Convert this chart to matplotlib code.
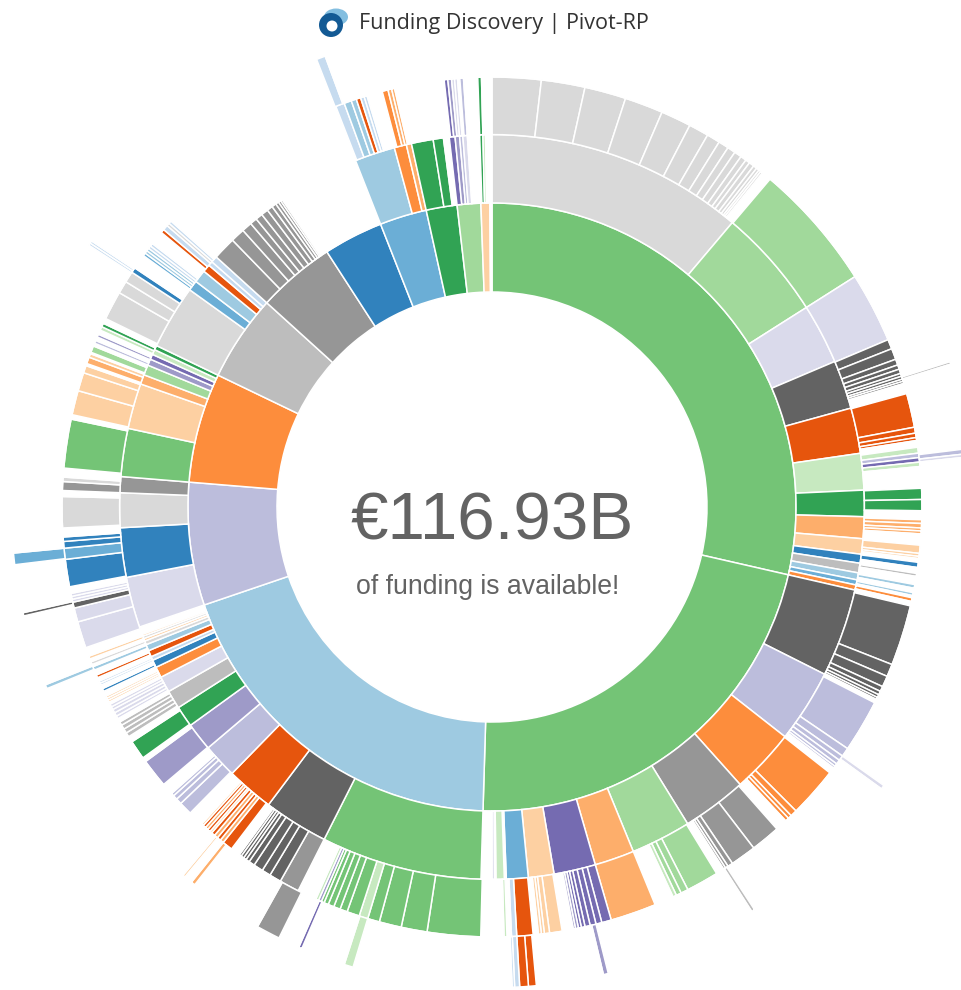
import numpy as np
import matplotlib
matplotlib.use('Agg')
import matplotlib.pyplot as plt
from matplotlib.patches import Circle, Ellipse

# share of the total funding per segment, in degrees of the circle
# "-" in the colours means nothing is drawn there (the children do not fill their parent)
palette = {
    'gr': '#74c476', 'a1': '#a1d99b', 'c7': '#c7e9c0', '31': '#31a354',
    'd9': '#d9d9d9', 'bd': '#bdbdbd', '96': '#969696', '63': '#636363',
    '9e': '#9ecae1', '6b': '#6baed6', 'c6': '#c6dbef', '3b': '#3182bd',
    'e6': '#e6550d', 'fd': '#fd8d3c', 'ae': '#fdae6b', 'd0': '#fdd0a2',
    '75': '#756bb1', '9a': '#9e9ac8', 'bc': '#bcbddc', 'da': '#dadaeb',
    '-': 'none',
}

ring1_values = [102.9, 78.8, 69.5, 23.5, 21.0, 16.5, 14.9, 11.4, 9.0, 5.9, 4.5, 1.7]
ring1_colors = ['gr', 'gr', '9e', 'bc', 'fd', 'bd', '96', '3b', '6b', '31', 'a1', 'd0']

ring2_values = [40.2, 17.4, 9.4, 7.6, 7.1, 5.7, 4.1, 3.4, 2.4, 1.4, 1.5, 1.1, 0.8, 0.8,
                13.8, 11.4, 10.1, 10.1, 9.4, 6.2, 6.5, 4.0, 3.4, 0.3, 1.3, 0.2, 0.4, 1.7,
                25.1, 10.1, 7.4, 5.4, 4.4, 3.3, 2.9, 2.5, 1.7, 1.2, 0.6, 1.0, 1.0, 0.6, 0.4, 0.4, 0.3, 1.2,
                7.9, 7.7, 5.4, 2.5,
                7.5, 7.1, 1.5, 1.6, 1.0, 0.8, 0.8, 0.7,
                10.0, 1.6, 2.0, 1.2, 0.7, 1.0,
                3.6, 2.2, 1.6, 1.1, 1.1, 1.1, 0.9, 0.7, 0.5, 0.4, 0.3, 12.8,
                6.3, 1.9, 0.8,
                3.4, 1.6, 0.9,
                0.9, 0.7, 0.5, 0.7, 1.9,
                0.5, 0.4]
ring2_colors = ['d9', 'a1', 'da', '63', 'e6', 'c7', '31', 'ae', 'd0', '3b', 'bd', '9e', '6b', 'fd',
                '63', 'bc', 'fd', '96', 'a1', 'ae', '75', 'd0', '6b', '-', 'c7', '-', 'da', '-',
                'gr', '63', 'e6', 'bc', '9a', '31', 'bd', 'da', 'fd', '3b', 'c6', 'e6', '9e', 'd9', 'd0', 'd9', 'd0', '-',
                'da', '3b', 'd9', '96',
                'gr', 'd0', 'ae', 'a1', '9a', '75', 'c7', '31',
                'd9', '6b', '9e', 'e6', 'c6', 'c6',
                '96', '96', '96', '96', '96', '96', '96', '96', '96', '96', '96', '-',
                '9e', 'fd', 'ae',
                '31', '31', '-',
                '75', '9a', 'bc', 'da', '-',
                '31', 'c7']

ring3_values = [6.6, 5.9, 5.6, 5.2, 4.1, 2.7, 1.8, 1.4, 1.1, 1.0, 0.8, 0.6, 0.7, 0.5, 0.4, 0.3, 0.3, 1.3,
                17.3, 9.5,
                1.3, 1.5, 0.8, 0.6, 0.6, 0.4, 0.4, 0.3, 0.3, 1.4,
                4.6, 0.8, 0.6, 0.4, 0.9,
                0.8, 0.6, 0.6, 0.6, 2.9,
                1.5, 1.5, 1.2,
                0.5, 0.6, 0.4, 0.4, 1.5,
                1.1, 0.4, 0.3, 0.5,
                0.7, 0.8, 0.4, 1.1, 0.5, 0.6, 0.4, 0.3, 0.5, 0.6,
                8.2, 1.7, 1.5, 0.7, 0.5, 0.4, 0.3, 0.5,
                7.1, 1.2, 0.7, 0.6, 0.4, 0.3, 0.8,
                6.8, 0.9, 0.5, 0.5, 1.6,
                4.0, 3.5, 0.7, 0.4, 0.3, 1.1,
                4.4, 1.0, 0.7, 0.5, 2.6,
                6.2,
                1.3, 0.8, 0.8, 0.7, 0.5, 0.4, 0.4, 0.3, 1.5,
                1.7, 0.7, 0.4, 0.4, 0.7,
                2.2, 0.7, 0.6, 0.4, 3.1,
                7.2, 3.5, 3.0, 1.6, 1.2, 1.7, 1.0, 0.9, 0.8, 0.6, 0.4, 0.4, 0.4, 2.6,
                2.7, 1.6, 1.2, 1.3, 0.8, 0.5, 0.4, 0.4, 0.3, 1.3,
                1.4, 0.5, 0.5, 0.5, 0.5, 0.3, 0.4, 0.4, 0.4, 0.3, 2.1,
                1.8, 0.8, 0.6, 0.4, 1.6,
                3.9, 0.6, 2.6, 0.8,
                0.6, 0.6, 0.6, 0.5, 0.5,
                0.4, 0.5, 0.5, 0.4, 0.4, 0.3,
                0.3, 0.3, 0.3, 0.7,
                0.4, 0.5, 0.3, 0.3, 0.5, 0.4, 0.7, 0.5, 0.3, 0.4, 0.4, 0.4, 1.2,
                3.6, 1.9, 0.8, 0.4, 0.4, 0.4, 0.9,
                3.7, 1.5, 0.9, 0.6, 1.2,
                4.2, 0.8,
                1.2, 0.6, 1.2,
                6.6, 0.6,
                3.3, 2.5, 1.0, 0.3,
                0.9, 0.5, 0.2, 0.9, 0.4, 0.4, 0.5, 0.4, 0.6, 0.5, 0.5, 0.7,
                3.9, 1.7, 1.5, 0.7, 2.0,
                0.4, 0.4, 0.4, 0.4, 0.4, 1.9,
                0.5, 0.7, 0.4, 0.4, 27.0,
                1.2, 1.0, 0.7, 0.6, 0.5, 0.4, 2.1,
                0.8, 0.5, 0.4, 6.7,
                0.5, 0.5, 0.4, 0.4, 0.3, 0.5, 1.9, 0.5]
ring3_colors = ['d9', 'd9', 'd9', 'd9', 'd9', 'd9', 'd9', 'd9', 'd9', 'd9', 'd9', 'd9', 'd9', 'd9', 'd9', 'd9', 'd9', '-',
                'a1', 'da',
                '63', '63', '63', '63', '63', '63', '63', '63', '63', '-',
                'e6', 'e6', 'e6', 'e6', '-',
                'c7', 'bc', '75', 'c7', '-',
                '31', '31', '-',
                'ae', 'ae', 'ae', 'ae', '-',
                'd0', 'd0', 'd0', '-',
                '3b', '-', 'bd', '-', '9e', '-', '9e', '-', 'fd', '-',
                '63', '63', '63', '63', '63', '63', '63', '-',
                'bc', 'bc', 'bc', 'bc', 'bc', 'bc', '-',
                'fd', 'fd', 'fd', 'fd', '-',
                '96', '96', '96', '96', '96', '-',
                'a1', 'a1', 'a1', 'c7', '-',
                'ae',
                '75', '75', '75', '75', '75', '75', '9a', '9a', '-',
                'd0', 'd0', 'd0', 'd0', '-',
                'e6', 'c6', '-', 'c7', '-',
                'gr', 'gr', 'gr', 'gr', 'c7', 'gr', 'gr', 'gr', 'gr', 'gr', 'gr', '9a', 'c7', '-',
                '96', '63', '63', '63', '63', '63', '63', '63', '63', '-',
                'e6', 'ae', 'e6', 'ae', 'e6', 'd0', 'e6', 'ae', 'e6', 'd0', '-',
                'bc', 'bc', 'bc', 'bc', '-',
                '9a', '-', '31', '-',
                'bd', 'bd', 'bd', 'bd', '-',
                'da', 'da', 'da', 'da', 'da', '-',
                'd0', 'd0', 'd0', '-',
                '3b', '-', 'c6', 'c6', '-', 'e6', '-', '9e', '-', 'd9', '-', 'd0', '-',
                'da', 'da', '63', 'da', 'da', 'da', '-',
                '3b', '6b', '3b', '3b', '-',
                'd9', '-',
                '96', 'd9', '-',
                'gr', '-',
                'd0', 'd0', 'd0', '-',
                'ae', 'd0', '-', 'a1', '-', 'bc', '-', '9a', '-', 'c7', '31', '-',
                'd9', 'd9', 'd9', '3b', '-',
                '6b', '9e', '9e', 'c6', 'c6', '-',
                'e6', 'c6', 'd9', 'c6', '-',
                'c6', '9e', '9e', 'e6', 'c6', 'c6', '-',
                'fd', 'ae', 'ae', '-',
                '75', '9a', 'da', 'da', '-', 'bc', '-', '31']

ring4_values = [72.4, 0.3, 10.3, 0.6, 0.4, 41.4, 0.5, 21.0, 0.4, 18.7, 0.6, 8.1,
                0.95, 1.05, 0.6, 0.3, 19.2, 1.1, 5.4, 0.4, 2.6, 2.9, 9.0, 0.5, 1.0, 0.3,
                27.8, 0.5, 8.6, 0.4, 5.8, 1.4, 38.5, 0.3, 0.3, 35.0, 1.1]
ring4_colors = ['-', 'bd', '-', 'bc', 'da', '-', 'da', '-', 'bd', '-', '9a', '-',
                'e6', 'e6', 'c6', 'c6', '-', 'c7', '-', '75', '-', '96', '-', 'ae', '-', 'd0',
                '-', '9e', '-', '63', '-', '6b', '-', 'c6', 'c6', '-', 'c6']

total_label = '€116.93B'
sub_label = 'of funding is available!'
title_label = 'Funding Discovery | Pivot-RP'

W, H = 961, 990
cx, cy = 492, H - 507
R = 215  # d3 style sqrt partition, radius of ring d is R*sqrt(d)

fig = plt.figure(figsize=(W / 100, H / 100), dpi=100)
ax = fig.add_axes([0, 0, 1, 1])

rings = [(ring1_values, ring1_colors), (ring2_values, ring2_colors),
         (ring3_values, ring3_colors), (ring4_values, ring4_colors)]
for d, (vals, cols) in enumerate(rings, start=1):
    assert len(vals) == len(cols), d
    vals = list(vals) + [max(360 - sum(vals), 0.001)]
    cols = [palette[c] for c in cols] + ['none']
    outer = R * np.sqrt(d + 1)
    inner = R * np.sqrt(d)
    ax.pie(vals, colors=cols, radius=outer, center=(cx, cy), startangle=90, counterclock=False,
           wedgeprops=dict(width=outer - inner, edgecolor='white', linewidth=1.1))

ax.set_xlim(0, W)
ax.set_ylim(0, H)
ax.set_aspect('equal')
ax.axis('off')

ax.text(cx, H - 522, total_label, ha='center', va='center', fontsize=48.5,
        family='Liberation Sans', color='#636363')
ax.text(488, H - 587, sub_label, ha='center', va='center', fontsize=19.2,
        family='Liberation Sans', color='#636363')
ax.text(359, H - 24, title_label, ha='left', va='center', fontsize=15.5,
        family='Open Sans', color='#333333')

# little logo next to the title
ax.add_patch(Ellipse((336, H - 17), 24, 17, color='#5aa9d6', alpha=0.75, lw=0))
ax.add_patch(Circle((331, H - 25), 12, color='#135a94', lw=0))
ax.add_patch(Circle((332, H - 26), 5.5, color='white', lw=0))

plt.savefig('out.png', dpi=100)
